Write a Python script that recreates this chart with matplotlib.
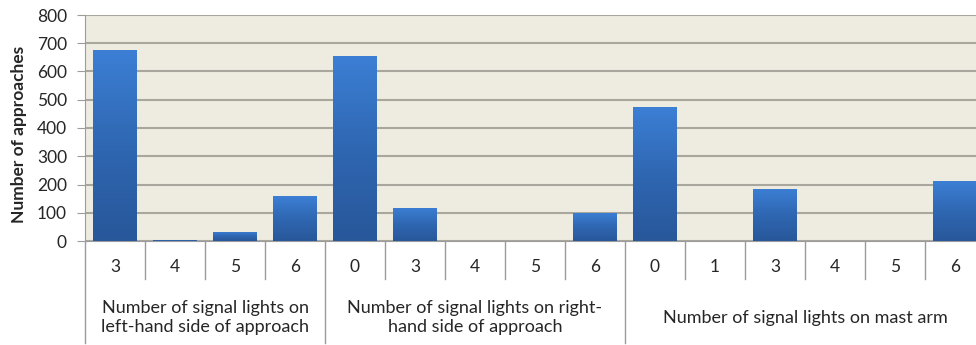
import numpy as np
import matplotlib.pyplot as plt
from matplotlib.colors import LinearSegmentedColormap

# category groups and counts
groups = ["Number of signal lights on\nleft-hand side of approach",
          "Number of signal lights on right-\nhand side of approach",
          "Number of signal lights on mast arm"]
left_counts = ["3", "4", "5", "6"]
left_values = [675, 5, 32, 159]
right_counts = ["0", "3", "4", "5", "6"]
right_values = [656, 118, 0, 0, 100]
mast_counts = ["0", "1", "3", "4", "5", "6"]
mast_values = [474, 0, 185, 0, 0, 212]
yticks = [0, 100, 200, 300, 400, 500, 600, 700, 800]

counts = [left_counts, right_counts, mast_counts]
labels = left_counts + right_counts + mast_counts
values = left_values + right_values + mast_values
x = np.arange(len(values))

font = ['Lato', 'DejaVu Sans']
grid_col = '#a9a69d'
line_col = '#9c9c9c'
text_col = '#262626'

fig = plt.figure(figsize=(9.76, 3.45), dpi=100)
# plot area runs past the right edge, like the cropped original
ax = fig.add_axes([85 / 976, 1 - 241 / 345, 900 / 976, 226 / 345])
ax.set_facecolor('#eeebe1')

cmap = LinearSegmentedColormap.from_list('bar', ['#28579a', '#2f67b2', '#3c7fd5'])
bars = ax.bar(x, values, width=0.72, color='#2f67b2', edgecolor='none', zorder=2)
grad = np.linspace(0, 1, 256).reshape(-1, 1)
for b in bars:
    h = b.get_height()
    if h <= 0:
        continue
    x0 = b.get_x()
    im = ax.imshow(grad, extent=[x0, x0 + b.get_width(), 0, h], origin='lower',
                   cmap=cmap, aspect='auto', zorder=3)
    im.set_clip_path(b)

ax.set_xlim(-0.5, len(values) - 0.5)
ax.set_ylim(0, 800)
ax.set_yticks(yticks)
ax.yaxis.grid(True, color=grid_col, lw=1.5)
ax.set_axisbelow(True)
for s in ['top', 'right']:
    ax.spines[s].set_visible(False)
ax.spines['left'].set_color(line_col)
ax.spines['bottom'].set_color(line_col)
ax.tick_params(axis='y', length=6, color=line_col, pad=7, labelsize=12.5,
               labelcolor=text_col)
for t in ax.get_yticklabels():
    t.set_fontfamily(font)
ax.set_xticks([])

# first level labels
trans = ax.get_xaxis_transform()
for xi, lab in zip(x, labels):
    ax.text(xi, -0.115, lab, transform=trans, ha='center', va='center',
            fontsize=12.5, family=font, color=text_col)

# separators: short between counts, long between groups
starts = np.cumsum([0] + [len(c) for c in counts])
for b in np.arange(len(values) + 1) - 0.5:
    depth = -0.451 if (b + 0.5) in starts else -0.168
    ax.plot([b, b], [0, depth], transform=trans, color=line_col, lw=1, clip_on=False)

# group labels
for g, s0, c in zip(groups, starts[:-1], counts):
    xc = s0 + (len(c) - 1) / 2
    ax.text(xc, -0.34, g, transform=trans, ha='center', va='center',
            fontsize=13, family=font, linespacing=1.25, color=text_col)

fig.text(19 / 976, 1 - 134 / 345, 'Number of approaches', rotation=90,
         ha='center', va='center', fontsize=12.5, fontweight='bold', family=font,
         color=text_col)

fig.savefig('out.png', dpi=100)
